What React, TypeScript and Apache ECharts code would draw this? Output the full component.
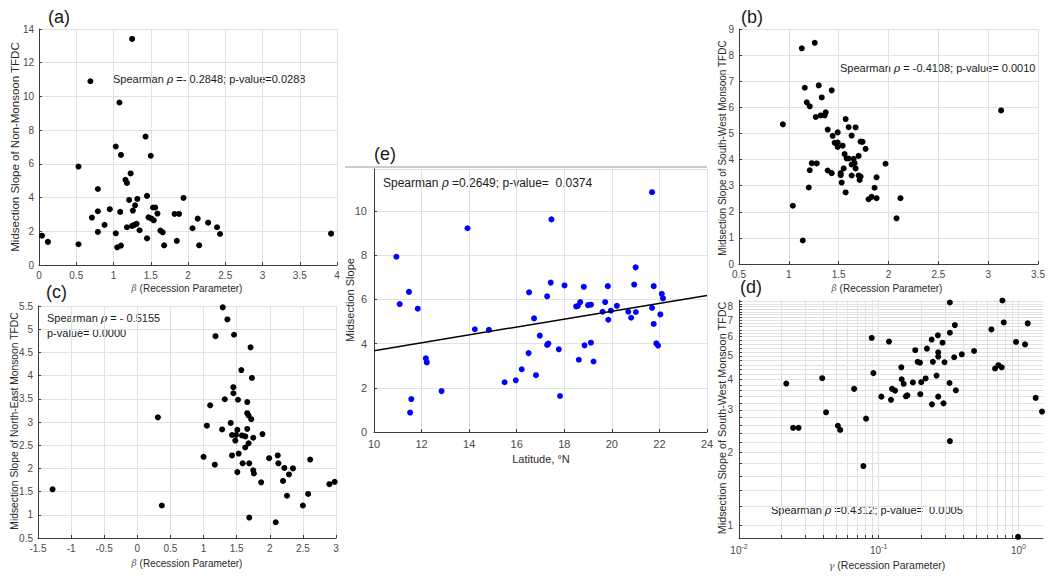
import React, { useEffect, useRef } from "react";
import * as echarts from "echarts";

// ---------- data ----------
// (a) Non-Monsoon
const aBeta = [0.04,0.12,0.53,0.53,0.69,0.71,0.79,0.79,0.79,0.88,0.95,1.03,1.03,1.05,1.08,1.09,1.10,1.10,1.16,1.18,1.18,1.21,1.23,1.25,1.25,1.26,1.28,1.29,1.31,1.32,1.35,1.43,1.45,1.45,1.47,1.50,1.51,1.53,1.54,1.56,1.59,1.63,1.66,1.68,1.82,1.85,1.88,1.94,2.06,2.13,2.15,2.27,2.39,2.43,3.92];
const aSlope = [1.74,1.37,5.84,1.23,10.9,2.81,4.51,3.19,1.96,2.38,3.31,7.03,1.88,1.05,9.64,3.15,6.53,1.15,5.05,4.87,2.24,3.86,5.43,13.41,2.32,3.23,2.38,3.54,2.44,3.92,2.06,7.62,4.10,1.58,2.83,6.48,2.75,3.41,2.65,3.41,3.05,2.04,1.94,1.17,3.03,1.43,3.03,3.98,2.18,2.75,1.17,2.51,2.24,1.84,1.86];

// (b) South-West Monsoon vs beta
const bBeta = [0.94,1.04,1.13,1.14,1.26,1.16,1.18,1.21,1.20,1.21,1.23,1.28,1.27,1.30,1.32,1.33,1.36,1.37,1.39,1.39,1.43,1.43,1.44,1.46,1.49,1.49,1.49,1.52,1.52,1.53,1.54,1.55,1.57,1.57,1.56,1.58,1.60,1.60,1.63,1.63,1.63,1.65,1.66,1.67,1.67,1.70,1.70,1.72,1.74,1.71,1.72,1.77,1.80,1.83,1.86,1.88,1.88,1.97,2.08,2.12,3.13];
const bSlope = [5.35,2.23,8.26,0.90,8.47,6.75,6.19,6.04,2.93,3.59,3.86,3.85,5.63,6.84,5.69,6.38,5.69,5.81,5.15,3.58,3.48,6.65,4.91,4.64,5.04,4.65,4.48,3.48,3.40,3.12,4.53,3.66,5.55,2.74,4.21,4.04,4.04,5.24,4.92,3.39,3.81,4.03,3.86,3.66,5.23,3.39,4.14,4.69,4.68,3.22,3.35,4.41,2.48,2.57,2.92,3.32,2.52,3.84,1.75,2.52,5.88];

// (c) North-East Monsoon
const cBeta = [-1.28,0.31,0.37,1.29,1.36,1.18,1.46,1.71,1.57,1.73,1.45,1.45,1.10,1.32,1.52,1.66,1.66,1.68,1.72,1.05,1.41,1.28,1.51,1.66,1.43,1.49,1.58,1.63,1.48,1.75,1.68,1.63,1.89,1.00,1.43,1.53,1.17,1.59,1.69,1.51,1.75,1.76,1.87,1.99,2.12,2.13,2.22,2.29,2.35,2.20,2.26,1.69,2.09,2.50,2.58,2.61,2.90,2.98];
const cSlope = [1.55,3.10,1.20,5.47,5.21,4.85,4.88,4.61,4.12,3.95,3.75,3.62,3.36,3.49,3.48,3.43,3.19,3.14,3.06,2.92,2.98,2.84,2.83,2.85,2.72,2.72,2.71,2.69,2.60,2.66,2.54,2.45,2.74,2.25,2.28,2.32,2.08,2.11,2.11,1.92,1.96,1.89,1.70,2.22,2.28,2.11,2.01,1.87,2.00,1.73,1.41,0.94,0.84,1.20,1.45,2.19,1.66,1.71];

// (d) South-West Monsoon vs gamma (log-log)
const dGamma = [0.0218,0.0244,0.0267,0.0394,0.0420,0.0510,0.0530,0.0667,0.0777,0.0812,0.0891,0.0916,0.1045,0.1185,0.1225,0.1245,0.1309,0.1452,0.1460,0.1509,0.1567,0.1603,0.1757,0.1827,0.1900,0.1974,0.1985,0.2017,0.2168,0.2215,0.2393,0.2405,0.2443,0.2594,0.2653,0.2667,0.2667,0.2667,0.2864,0.2911,0.2961,0.3214,0.3232,0.3232,0.3232,0.3470,0.3509,0.3566,0.3934,0.4818,0.6409,0.6808,0.7190,0.7596,0.7683,0.7852,0.9616,0.9945,1.116,1.166,1.330,1.475];
const dSlope = [3.85,2.53,2.53,4.05,2.93,2.58,2.48,3.66,1.76,2.76,5.93,4.25,3.40,5.73,3.30,3.66,3.60,4.49,4.01,3.84,3.41,3.44,3.89,5.28,4.73,4.69,3.48,3.90,4.04,5.36,5.84,3.16,4.73,4.15,6.08,5.18,4.97,3.40,5.67,3.19,4.71,3.87,8.30,6.23,2.23,4.94,6.70,3.61,5.08,5.24,6.43,4.44,4.58,4.49,8.46,6.87,5.71,0.90,5.58,6.81,3.36,2.95];

// (e) Latitude
const eLat = [10.94,11.08,11.47,11.52,11.57,11.84,12.18,12.22,12.84,13.93,14.24,14.83,15.49,15.96,16.21,16.50,16.52,16.73,16.81,16.97,17.28,17.28,17.33,17.43,17.46,17.77,17.82,18.01,18.50,18.57,18.61,18.67,18.82,18.85,19.00,19.12,19.12,19.23,19.61,19.72,19.83,19.85,19.96,20.21,20.69,20.81,20.94,21.00,21.01,21.69,21.69,21.76,21.76,21.87,21.94,22.04,22.10,22.15];
const eSlope = [7.93,5.79,6.34,0.88,1.49,5.58,3.33,3.15,1.85,9.22,4.65,4.62,2.25,2.34,2.84,3.57,6.32,5.14,2.57,4.36,6.14,3.94,4.00,6.76,9.62,3.74,1.63,6.63,5.68,5.70,3.27,5.88,6.57,3.92,5.74,5.76,4.04,3.19,5.44,5.88,6.60,5.08,5.49,5.71,5.44,5.17,6.67,7.45,5.43,5.62,10.85,6.60,4.89,4.01,3.91,5.32,6.25,6.05];
const eFitX = [10, 24];
const eFitY = [3.68, 6.18];

// tick values for the log panel
const dXLabels = [0.01, 0.1, 1];
const dYLabels = [1, 2, 3, 4, 5, 6, 7, 8];

// ---------- helpers ----------
const FONT = "'Liberation Sans', Arial, Helvetica, sans-serif";
const AX = "#3c3c3c";
const LBL = "#4a4a4a";
const GRID = "#e1e1e1";

const zip = (xs: number[], ys: number[]) => xs.map((x, i) => [x, ys[i]]);

const dXTicks: number[] = [];
[-2, -1].forEach((k) => {
  for (let m = 1; m <= 9; m++) dXTicks.push(Number((m * Math.pow(10, k)).toPrecision(3)));
});
dXTicks.push(1);
const dYTicks: number[] = [];
for (let v = 10; v <= 84; v += 2) dYTicks.push(v / 10);

function baseAxis(gi: number, fs = 10, margin = 5) {
  return {
    gridIndex: gi,
    axisLine: { show: true, onZero: false, lineStyle: { color: AX, width: 1 } },
    axisTick: { show: true, inside: true, length: 3, lineStyle: { color: AX } },
    splitLine: { show: true, lineStyle: { color: GRID, width: 1 } },
    axisLabel: { color: LBL, fontSize: fs, fontFamily: FONT, margin },
  };
}

function valX(gi: number, min: number, max: number, interval: number, fs = 10, margin = 5) {
  return { ...baseAxis(gi, fs, margin), type: "value", min, max, interval };
}
function valY(gi: number, min: number, max: number, interval: number, fs = 10, margin = 5, extra: any = {}) {
  const b = baseAxis(gi, fs, margin);
  return { ...b, type: "value", min, max, interval, axisLabel: { ...b.axisLabel, ...extra } };
}

function txt(x: number, y: number, text: string, fs: number, opts: any = {}) {
  return {
    type: "text",
    x,
    y,
    rotation: opts.rotation || 0,
    silent: true,
    style: {
      text,
      fontSize: fs,
      fontFamily: FONT,
      fill: opts.fill || "#1a1a1a",
      align: opts.align || "left",
      verticalAlign: "middle",
      rich: {
        i: { fontStyle: "italic", fontSize: fs, fontFamily: "'DejaVu Serif', serif", fill: opts.fill || "#1a1a1a" },
        g: { fontStyle: "italic", fontSize: fs - 1, fontFamily: "'DejaVu Serif', serif", fill: opts.richFill || "#555" },
      },
    },
  };
}

const yTitle = (x: number, y: number, text: string, fs: number) =>
  txt(x, y, text, fs, { rotation: Math.PI / 2, align: "center", fill: "#2a2a2a" });
const xTitle = (x: number, y: number, text: string, fs: number) =>
  txt(x, y, text, fs, { align: "center", fill: "#2a2a2a" });

const dot = (color: string) => ({ color, opacity: 1 });

export default function App() {
  const ref = useRef<HTMLDivElement>(null);

  useEffect(() => {
    if (!ref.current) return;
    const chart = echarts.init(ref.current, null, { renderer: "svg" });

    const option: any = {
      animation: false,
      backgroundColor: "#ffffff",
      grid: [
        { left: 39, top: 29, width: 298, height: 236, containLabel: false },
        { left: 739, top: 29, width: 299, height: 235, containLabel: false },
        { left: 38, top: 306, width: 298, height: 232, containLabel: false },
        { left: 739, top: 300, width: 304, height: 238, containLabel: false },
        { left: 374, top: 169, width: 333, height: 263, containLabel: false },
      ],
      xAxis: [
        valX(0, 0, 4, 0.5),
        valX(1, 0.5, 3.5, 0.5),
        valX(2, -1.5, 3, 0.5),
        {
          ...baseAxis(3, 10, 5),
          type: "log",
          logBase: 10,
          min: 0.01,
          max: 1.5,
          axisTick: { show: true, inside: true, length: 3, lineStyle: { color: AX }, customValues: dXTicks },
          axisLabel: {
            color: LBL,
            fontFamily: FONT,
            fontSize: 10,
            margin: 5,
            customValues: dXLabels,
            formatter: (v: number) => `{b|10}{s|${Math.round(Math.log10(v))}}`,
            rich: {
              b: { fontSize: 10, fontFamily: FONT, color: LBL, lineHeight: 15 },
              s: { fontSize: 7, fontFamily: FONT, color: LBL, verticalAlign: "top" },
            },
          },
        },
        { ...valX(4, 10, 24, 2, 11, 6) },
      ],
      yAxis: [
        valY(0, 0, 14, 2),
        valY(1, 0, 9, 1),
        valY(2, 0.5, 5.5, 0.5),
        {
          ...baseAxis(3, 10, 6),
          type: "log",
          logBase: 10,
          min: 0.89,
          max: 8.5,
          axisTick: { show: true, inside: true, length: 3, lineStyle: { color: AX }, customValues: dYTicks },
          axisLabel: { color: LBL, fontFamily: FONT, fontSize: 10, margin: 6, customValues: dYLabels },
        },
        valY(4, 0, 11.9, 2, 11, 7, { showMaxLabel: false }),
      ],
      series: [
        { type: "scatter", xAxisIndex: 0, yAxisIndex: 0, data: zip(aBeta, aSlope), symbolSize: 6, itemStyle: dot("#000"), clip: false },
        { type: "scatter", xAxisIndex: 1, yAxisIndex: 1, data: zip(bBeta, bSlope), symbolSize: 6, itemStyle: dot("#000"), clip: false },
        { type: "scatter", xAxisIndex: 2, yAxisIndex: 2, data: zip(cBeta, cSlope), symbolSize: 6, itemStyle: dot("#000"), clip: false },
        { type: "scatter", xAxisIndex: 3, yAxisIndex: 3, data: zip(dGamma, dSlope), symbolSize: 6, itemStyle: dot("#000"), clip: false },
        { type: "scatter", xAxisIndex: 4, yAxisIndex: 4, data: zip(eLat, eSlope), symbolSize: 6, itemStyle: dot("#0000ff"), clip: false },
        {
          type: "line",
          xAxisIndex: 4,
          yAxisIndex: 4,
          data: zip(eFitX, eFitY),
          showSymbol: false,
          symbol: "none",
          lineStyle: { color: "#000", width: 1.5 },
          silent: true,
        },
      ],
      graphic: [
        // frame line of panel (e)
        { type: "line", silent: true, shape: { x1: 345, y1: 167, x2: 707, y2: 167 }, style: { stroke: "#9a9a9a", lineWidth: 1 } },
        // panel letters
        txt(48, 17, "(a)", 18),
        txt(741, 17, "(b)", 18),
        txt(46, 292, "(c)", 18),
        txt(740, 287, "(d)", 18),
        txt(374, 154, "(e)", 18),
        // correlation annotations
        txt(113, 79, "Spearman {i|ρ} =- 0.2848; p-value=0.0288", 11),
        txt(840, 68, "Spearman {i|ρ} = -0.4108; p-value= 0.0010", 11),
        txt(47, 318, "Spearman {i|ρ} = - 0.5155", 11),
        txt(47, 333, "p-value= 0.0000", 11),
        txt(771, 510, "Spearman {i|ρ} =0.4312; p-value=  0.0005", 11),
        txt(383, 183, "Spearman {i|ρ} =0.2649; p-value=  0.0374", 12),
        // axis titles
        xTitle(187, 288, "{g|β} (Recession Parameter)", 10),
        xTitle(887, 288, "{g|β} (Recession Parameter)", 10),
        xTitle(187, 563, "{g|β} (Recession Parameter)", 10),
        xTitle(887, 565, "{g|γ} (Recession Parameter)", 10.5),
        xTitle(541, 459, "Latitude, °N", 11),
        yTitle(15, 147, "Midsection Slope of Non-Monsoon TFDC", 11.5),
        yTitle(722, 148, "Midsection Slope of South-West Monsoon TFDC", 10),
        yTitle(14, 421, "Midsection Slope of North-East Monsoon TFDC", 10.3),
        yTitle(722, 418, "Midsection Slope of South-West Monsoon TFDC", 10.8),
        yTitle(350, 300, "Midsection Slope", 11),
      ],
    };

    chart.setOption(option);
    return () => chart.dispose();
  }, []);

  return (
    <div
      ref={ref}
      style={{ position: "fixed", left: 0, top: 0, width: 1058, height: 586, background: "#fff" }}
    />
  );
}
